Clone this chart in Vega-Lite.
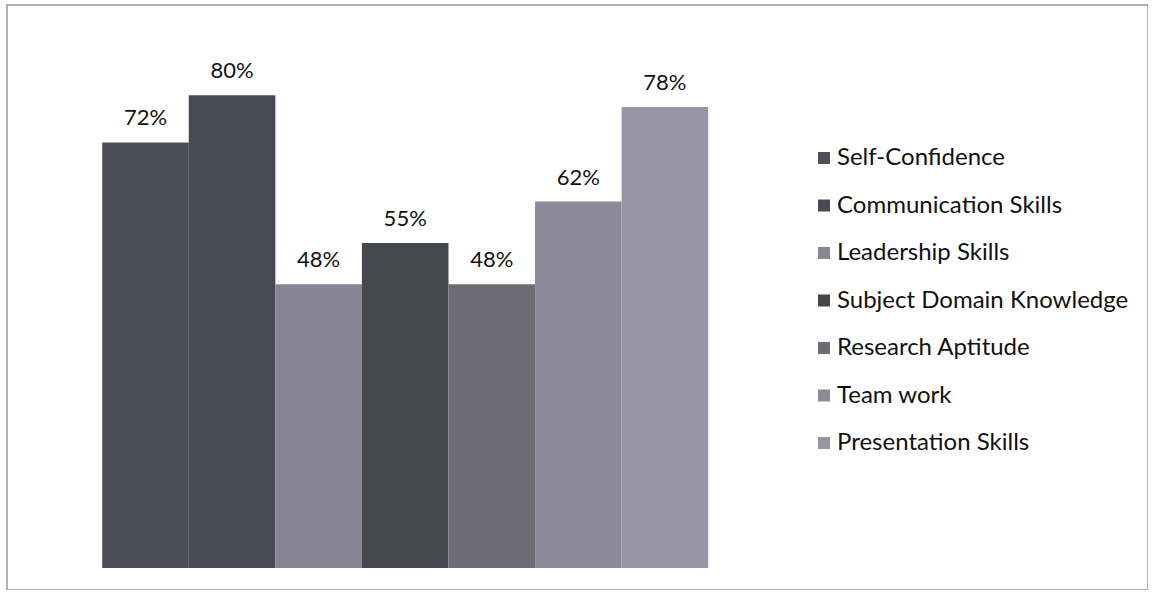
{
  "$schema": "https://vega.github.io/schema/vega-lite/v6.json",
  "width": 1141,
  "height": 585,
  "padding": {"left": 7, "top": 5, "right": 0, "bottom": 0},
  "autosize": {"type": "none"},
  "background": "#ffffff",
  "config": {
    "view": {"stroke": "#9a9a9a", "strokeWidth": 1.5},
    "font": "Lato"
  },
  "data": {
    "values": [
      {"skill": "Self-Confidence", "value": 0.72},
      {"skill": "Communication Skills", "value": 0.80},
      {"skill": "Leadership Skills", "value": 0.48},
      {"skill": "Subject Domain Knowledge", "value": 0.55},
      {"skill": "Research Aptitude", "value": 0.48},
      {"skill": "Team work", "value": 0.62},
      {"skill": "Presentation Skills", "value": 0.78}
    ]
  },
  "encoding": {
    "x": {
      "field": "skill",
      "type": "nominal",
      "sort": null,
      "axis": null,
      "scale": {"paddingInner": 0, "paddingOuter": 0, "range": [95.2, 701.2]}
    },
    "y": {
      "field": "value",
      "type": "quantitative",
      "axis": null,
      "scale": {"domain": [-0.0372, 0.9526], "nice": false, "zero": false}
    }
  },
  "layer": [
    {
      "mark": {"type": "bar"},
      "encoding": {
        "y2": {"datum": 0},
        "color": {
          "field": "skill",
          "type": "nominal",
          "sort": null,
          "scale": {
            "domain": ["Self-Confidence", "Communication Skills", "Leadership Skills", "Subject Domain Knowledge", "Research Aptitude", "Team work", "Presentation Skills"],
            "range": ["#4d4d57", "#4a4a55", "#878593", "#45484d", "#6c6b76", "#8b899a", "#9896a6"]
          },
          "legend": {
            "title": null,
            "orient": "none",
            "legendX": 805,
            "legendY": 141,
            "padding": 0,
            "symbolType": "square",
            "symbolSize": 144,
            "symbolStrokeWidth": 0,
            "symbolOpacity": 1,
            "labelFont": "Lato",
            "labelFontSize": 24,
            "labelColor": "#111111",
            "labelOffset": 1,
            "labelLimit": 400,
            "rowPadding": 23.5
          }
        }
      }
    },
    {
      "mark": {"type": "text", "baseline": "alphabetic", "dy": -17, "fontSize": 22, "font": "Lato", "color": "#111111"},
      "encoding": {
        "text": {"field": "value", "type": "quantitative", "format": ".0%"}
      }
    }
  ]
}
